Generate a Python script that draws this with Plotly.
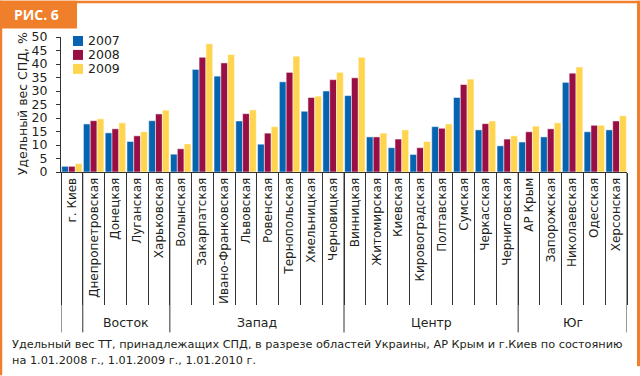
import plotly.graph_objects as go

# ---------------- data ----------------
regions = ["г. Киев",
           "Днепропетровская", "Донецкая", "Луганская", "Харьковская",
           "Волынская", "Закарпатская", "Ивано-Франковская", "Львовская",
           "Ровенская", "Тернопольская", "Хмельницкая", "Черновицкая",
           "Винницкая", "Житомирская", "Киевская", "Кировоградская",
           "Полтавская", "Сумская", "Черкасская", "Черниговская",
           "АР Крым", "Запорожская", "Николаевская", "Одесская", "Херсонская"]

group_names = ["Восток", "Запад", "Центр", "Юг"]
group_sizes = [4, 8, 8, 5]

years = ["2007", "2008", "2009"]

v2007 = [2.1, 17.8, 14.5, 11.3, 19.0, 6.6, 38.0, 35.5, 18.9, 10.3, 33.4, 22.5, 30.0,
         28.3, 13.0, 9.0, 6.5, 16.8, 27.6, 15.6, 9.7, 11.1, 13.0, 33.2, 14.9, 15.6]
v2008 = [2.1, 19.0, 16.0, 13.4, 21.5, 8.6, 42.5, 40.4, 21.6, 14.4, 36.9, 27.6, 34.2,
         34.9, 13.0, 12.2, 9.0, 16.2, 32.4, 17.9, 12.2, 14.9, 16.0, 36.6, 17.3, 18.9]
v2009 = [3.1, 19.7, 18.2, 14.9, 22.9, 10.4, 47.5, 43.5, 23.0, 16.8, 42.9, 28.1, 36.9,
         42.5, 14.4, 15.6, 11.3, 17.8, 34.4, 18.9, 13.4, 17.0, 18.2, 38.9, 17.3, 20.8]

y_ticks = [0, 5, 10, 15, 20, 25, 30, 35, 40, 45, 50]
y_title = "Удельный вес СПД, %"
fig_label = "РИС. 6"
caption1 = "Удельный вес ТТ, принадлежащих СПД, в разрезе областей Украины, АР Крым и г.Киев по состоянию"
caption2 = "на 1.01.2008 г., 1.01.2009 г., 1.01.2010 г."

colors = ["#0563B0", "#990F45", "#FFD54F"]
ORANGE = "#F07F2B"
FONT = "DejaVu Sans"
TXT = "#231F20"

# ---------------- geometry helpers (pixel -> paper) ----------------
W, H = 640, 376
L, R, T, B = 61, 627, 36.5, 172
PW, PH = R - L, B - T


def px(x):
    return (x - L) / PW


def py(y):
    return (B - y) / PH


fig = go.Figure()
for name, vals, c in zip(years, [v2007, v2008, v2009], colors):
    fig.add_trace(go.Bar(x=regions, y=vals, name=name, marker_color=c,
                         marker_line=dict(color="white", width=0.5),
                         showlegend=False))

shapes = []
annotations = []

# manual legend
for i, (name, c) in enumerate(zip(years, colors)):
    cy = 40.5 + i * 14
    shapes.append(dict(type="rect", xref="paper", yref="paper",
                       x0=px(73), x1=px(83), y0=py(cy + 5), y1=py(cy - 5),
                       fillcolor=c, line=dict(width=0)))
    annotations.append(dict(text=name, xref="paper", yref="paper",
                            x=px(86), y=py(cy), xanchor="left", yanchor="middle",
                            showarrow=False, font=dict(family=FONT, size=12.5, color=TXT)))

# long separators between groups (and around Kiev)
bounds = [-0.5, 0.5]
s = 0.5
for g in group_sizes:
    s += g
    bounds.append(s)
for b in bounds:
    shapes.append(dict(type="line", xref="x", yref="paper", x0=b, x1=b,
                       y0=0, y1=py(333), line=dict(color="#333333", width=1)))

# group labels
start = 1
for gname, g in zip(group_names, group_sizes):
    center = start + (g - 1) / 2
    annotations.append(dict(text=gname, xref="x", yref="paper", x=center, y=py(323),
                            xanchor="center", yanchor="middle", showarrow=False,
                            font=dict(family=FONT, size=12.5, color=TXT)))
    start += g

# y axis title
annotations.append(dict(text=y_title, xref="paper", yref="paper", x=px(22), y=py(104),
                        textangle=-90, xanchor="center", yanchor="middle", showarrow=False,
                        font=dict(family=FONT, size=12.5, color=TXT)))

# captions
annotations.append(dict(text=caption1, xref="paper", yref="paper", x=px(10), y=py(345),
                        xanchor="left", yanchor="middle", showarrow=False,
                        font=dict(family=FONT, size=11.3, color=TXT)))
annotations.append(dict(text=caption2, xref="paper", yref="paper", x=px(10), y=py(361),
                        xanchor="left", yanchor="middle", showarrow=False,
                        font=dict(family=FONT, size=11.3, color=TXT)))

# orange frame
shapes.append(dict(type="rect", xref="paper", yref="paper", x0=px(0), x1=px(640),
                   y0=py(2.7), y1=py(0), fillcolor=ORANGE, line=dict(width=0), layer="above"))
shapes.append(dict(type="rect", xref="paper", yref="paper", x0=px(0), x1=px(77),
                   y0=py(28), y1=py(0), fillcolor=ORANGE, line=dict(width=0), layer="above"))
shapes.append(dict(type="rect", xref="paper", yref="paper", x0=px(0), x1=px(2.2),
                   y0=py(376), y1=py(0), fillcolor=ORANGE, line=dict(width=0), layer="above"))
shapes.append(dict(type="rect", xref="paper", yref="paper", x0=px(637), x1=px(640),
                   y0=py(367), y1=py(0), fillcolor=ORANGE, line=dict(width=0), layer="above"))
annotations.append(dict(text="<b>" + fig_label + "</b>", xref="paper", yref="paper",
                        x=px(12), y=py(13.5), xanchor="left", yanchor="middle",
                        showarrow=False, font=dict(family="Open Sans", size=14, color="white")))

fig.update_layout(
    width=W, height=H,
    margin=dict(l=L, r=W - R, t=T, b=H - B, pad=0),
    paper_bgcolor="white", plot_bgcolor="white",
    barmode="group", bargap=0.06, bargroupgap=0.0,
    shapes=shapes, annotations=annotations,
    font=dict(family=FONT, color=TXT),
)
fig.update_xaxes(
    type="category", range=[-0.5, len(regions) - 0.5],
    showline=True, linecolor="#333333", linewidth=1,
    ticks="outside", tickson="boundaries", ticklen=132, tickcolor="#333333", tickwidth=1,
    tickangle=-90, tickfont=dict(family=FONT, size=12, color=TXT),
    showgrid=False, zeroline=False,
)
fig.update_yaxes(
    range=[0, 50], tickvals=y_ticks, ticktext=[str(v) for v in y_ticks],
    showline=True, linecolor="#333333", linewidth=1,
    ticks="outside", ticklen=4, tickcolor="#333333",
    tickfont=dict(family=FONT, size=12.5, color=TXT), ticklabelstandoff=6,
    showgrid=False, zeroline=False,
)

fig.write_html("out.html", config={"displayModeBar": False},
               post_script="document.body.style.margin='0';document.body.style.padding='0';")
